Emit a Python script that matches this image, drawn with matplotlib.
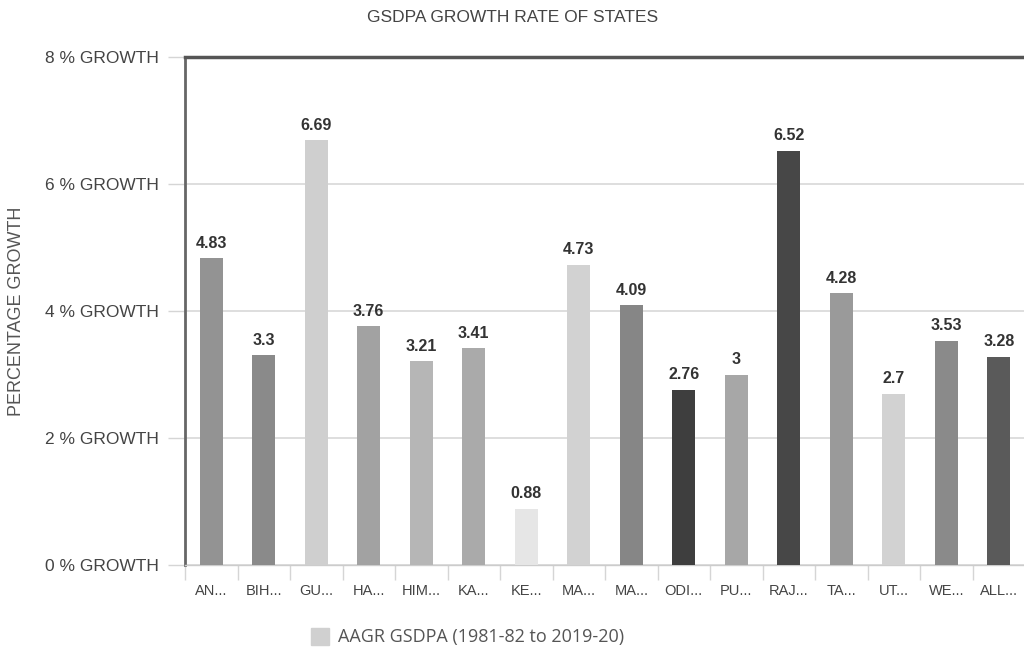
import numpy as np
import matplotlib
matplotlib.use('Agg')
import matplotlib.pyplot as plt
from matplotlib.patches import Patch

# data
states = ["AN...", "BIH...", "GU...", "HA...", "HIM...", "KA...", "KE...", "MA...",
          "MA...", "ODI...", "PU...", "RAJ...", "TA...", "UT...", "WE...", "ALL..."]
growth = [4.83, 3.3, 6.69, 3.76, 3.21, 3.41, 0.88, 4.73,
          4.09, 2.76, 3, 6.52, 4.28, 2.7, 3.53, 3.28]
value_labels = ["4.83", "3.3", "6.69", "3.76", "3.21", "3.41", "0.88", "4.73",
                "4.09", "2.76", "3", "6.52", "4.28", "2.7", "3.53", "3.28"]
bar_colors = ["#939393", "#8a8a8a", "#cfcfcf", "#a2a2a2", "#b6b6b6", "#aaaaaa",
              "#e6e6e6", "#d2d2d2", "#868686", "#3e3e3e", "#a7a7a7", "#474747",
              "#9a9a9a", "#d2d2d2", "#8a8a8a", "#5a5a5a"]
yticks = [0, 2, 4, 6, 8]
ytick_labels = ["%d %% GROWTH" % v for v in yticks]

plt.rcParams['font.family'] = ['Liberation Sans', 'DejaVu Sans']

fig = plt.figure(figsize=(10.24, 6.57), dpi=100)
ax = fig.add_axes([185 / 1024, 92 / 657, 840 / 1024, 508 / 657])

x = np.arange(len(states))
ax.bar(x, growth, width=0.44, color=bar_colors, zorder=3)

for xi, v, lab in zip(x, growth, value_labels):
    ax.text(xi, v + 0.12, lab, ha='center', va='bottom', fontsize=11.5,
            fontweight='bold', color='#333333', zorder=4)

ax.set_xlim(-0.5, len(states) - 0.5)
ax.set_ylim(0, 8)

# y axis
ax.set_yticks(yticks)
ax.set_yticklabels(ytick_labels, fontsize=12.5, color='#444444')
ax.tick_params(axis='y', length=12, width=1, color='#d5d5d5', pad=7)
ax.yaxis.grid(True, color='#d8d8d8', linewidth=1.2, zorder=0)

# x axis: labels at centers, tick marks at band edges
ax.set_xticks(x)
ax.set_xticklabels(states, fontsize=10.5, color='#444444')
ax.tick_params(axis='x', which='major', length=0, pad=14)
ax.set_xticks(np.arange(len(states) + 1) - 0.5, minor=True)
ax.tick_params(axis='x', which='minor', length=11, width=1, color='#d5d5d5')

ax.spines['right'].set_visible(False)
ax.spines['top'].set_color('#555555')
ax.spines['top'].set_linewidth(2.5)
ax.spines['left'].set_color('#666666')
ax.spines['left'].set_linewidth(2)
ax.spines['bottom'].set_color('#cccccc')
ax.spines['bottom'].set_linewidth(1)

fig.text(17 / 1024, 1 - 311 / 657, "PERCENTAGE GROWTH", rotation=90,
         ha='center', va='center', fontsize=13, color='#555555')
fig.text(513 / 1024, 1 - 17 / 657, "GSDPA GROWTH RATE OF STATES",
         ha='center', va='center', fontsize=12.5, color='#444444')

leg = fig.legend(handles=[Patch(color='#d0d0d0', label='AAGR GSDPA (1981-82 to 2019-20)')],
                 loc='center', bbox_to_anchor=(468 / 1024, 1 - 637 / 657),
                 frameon=False, prop={'family': 'Open Sans', 'size': 13},
                 handlelength=1.0, handleheight=1.1, handletextpad=0.5)
for t in leg.get_texts():
    t.set_color('#555555')

fig.savefig('out.png', dpi=100)
